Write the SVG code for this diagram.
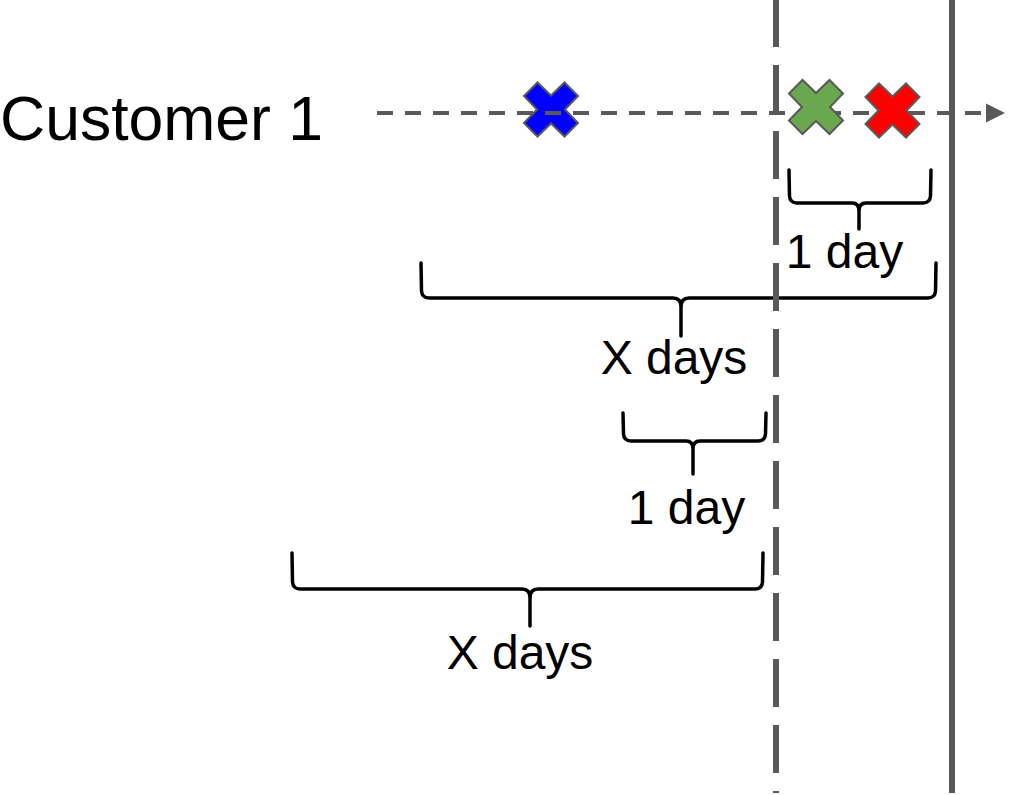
<svg xmlns="http://www.w3.org/2000/svg" width="1011" height="795" viewBox="0 0 1011 795">
  <style>
    .label { font-family: "Liberation Sans", Arial, sans-serif; fill: #000000; }
    .brace { fill: none; stroke: #000000; stroke-width: 3.5; stroke-linecap: round; stroke-linejoin: round; }
    .event { stroke: #595959; stroke-width: 2; stroke-linejoin: miter; }
    .timeline { fill: none; stroke: #595959; stroke-width: 4; stroke-dasharray: 16 12; }
    .cutoff { fill: none; stroke: #595959; stroke-width: 6; stroke-dasharray: 48 18; }
    .horizon { fill: none; stroke: #595959; stroke-width: 6; }
  </style>
  <defs>
    <!-- cross-shaped event marker, centred on 0,0 -->
    <polygon id="cross" points="0,-14 13.5,-27 27,-13.5 14,0 27,13.5 13.5,27 0,14 -13.5,27 -27,13.5 -14,0 -27,-13.5 -13.5,-27"/>
    <marker id="arrow" markerUnits="userSpaceOnUse" viewBox="0 0 20 20" markerWidth="20" markerHeight="20" refX="0" refY="10" orient="auto">
      <path d="M0,0.5 L19,10 L0,19.5 Z" fill="#595959"/>
    </marker>
  </defs>

  <rect width="1011" height="795" fill="#ffffff"/>

  <!-- customer label -->
  <g id="customer">
    <text class="label" x="0" y="140" font-size="62.5">Customer 1</text>
  </g>

  <!-- first event, sits under the timeline -->
  <g id="event-blue">
    <use href="#cross" x="551" y="109.5" class="event" fill="#0000ff"/>
  </g>

  <!-- time axis -->
  <g id="connectors">
    <line class="timeline" x1="377" y1="113" x2="986" y2="113" marker-end="url(#arrow)"/>
  </g>

  <g id="event-green">
    <use href="#cross" x="816" y="107" class="event" fill="#6aa84f"/>
  </g>
  <g id="event-red">
    <use href="#cross" x="892.5" y="110.5" class="event" fill="#ff0000"/>
  </g>

  <!-- spans and their labels -->
  <g id="span-1day-a">
    <path class="brace" d="M789,170 L789.5,196 Q790,203 797,203 L852,203 Q859,203 859,211 L859,229 M859,211 Q859,203 866,203 L923,203 Q930,203 930.5,196 L931,170"/>
    <text class="label" x="844.5" y="268" font-size="48" text-anchor="middle">1 day</text>
  </g>
  <g id="span-xdays-a">
    <path class="brace" d="M421,263 L421.5,291 Q422,298 429,298 L673,298 Q681,298 681,307 L681,336 M681,307 Q681,298 689,298 L928,298 Q935,298 935.5,291 L936,263"/>
    <text class="label" x="674" y="374" font-size="48" text-anchor="middle">X days</text>
  </g>
  <g id="span-1day-b">
    <path class="brace" d="M623,413 L623.5,434 Q624,441 631,441 L686,441 Q693,441 693,449 L693,474 M693,449 Q693,441 700,441 L758,441 Q765,441 765.5,434 L766,413"/>
    <text class="label" x="686.5" y="524" font-size="48" text-anchor="middle">1 day</text>
  </g>
  <g id="span-xdays-b">
    <path class="brace" d="M292,553 L292.5,582 Q293,589 300,589 L522,589 Q530,589 530,598 L530,626 M530,598 Q530,589 538,589 L755,589 Q762,589 762.5,582 L763,553"/>
    <text class="label" x="520" y="669" font-size="48" text-anchor="middle">X days</text>
  </g>

  <!-- cut-off and horizon markers -->
  <g id="cutoff">
    <line class="cutoff" x1="776" y1="-1" x2="776" y2="793"/>
  </g>
  <g id="horizon">
    <line class="horizon" x1="952" y1="0" x2="952" y2="793"/>
  </g>
</svg>
